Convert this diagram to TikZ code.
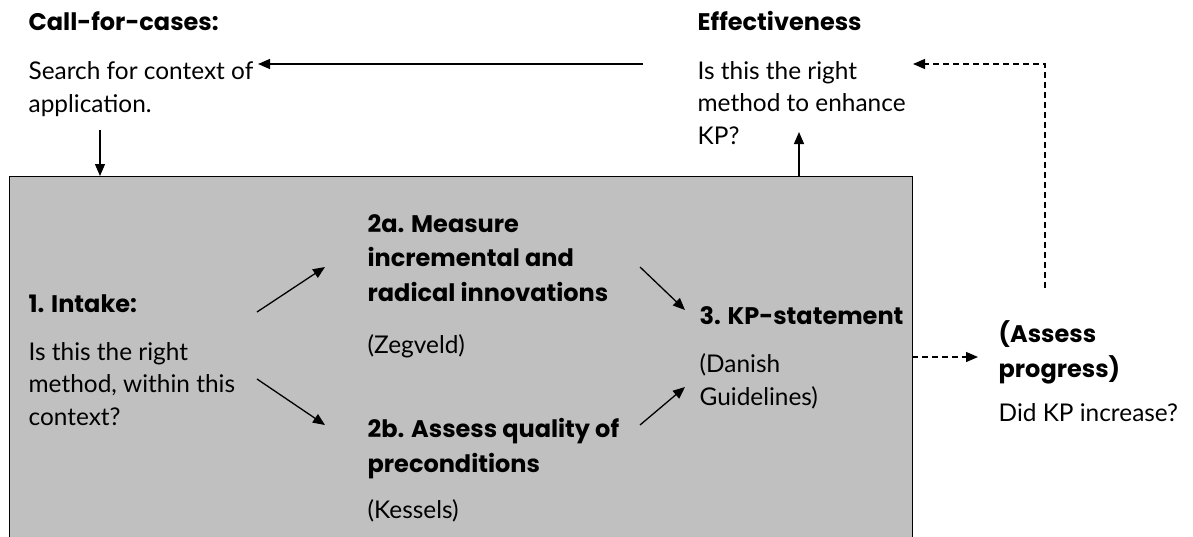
\documentclass[tikz,border=0pt]{standalone}
\usepackage{fontspec}
\setmainfont{Lato}
\newfontfamily\hdfont{Poppins}
\usetikzlibrary{arrows.meta}
\definecolor{boxgray}{HTML}{C0C0C0}
\tikzset{
  txt/.style={anchor=base west,align=left,inner sep=0pt,font=\fontsize{24.4}{32.5}\selectfont},
  hd/.style={txt,font=\hdfont\bfseries\fontsize{24}{34.5}\selectfont},
  dsh/.style={dashed,dash pattern=on 6pt off 4pt}
}
\begin{document}
\begin{tikzpicture}[x=1pt,y=-1pt,>={Triangle[length=12pt,width=10pt]},line width=1.3pt]
\useasboundingbox (0,0) rectangle (1193,536);
% the grey panel
\node (box) [draw,fill=boxgray,anchor=north west,inner sep=0pt,minimum width=903pt,minimum height=380pt] at (9,176) {};

% texts above (nodes sit on the baseline of their last line)
\node (cases) [hd] at (28,30) {Call-for-cases:};
\node (search) [txt] at (28,112) {Search for context of\\application.};
\node (effect) [hd] at (697,30) {Effectiveness};
\node (effq) [txt] at (697,144) {Is this the right\\method to enhance\\KP?};

% texts in the panel
\node (intake) [hd] at (28,312) {1. Intake:};
\node (intq) [txt] at (28,425) {Is this the right\\method, within this\\context?};
\node (meas) [hd] at (367,301) {2a. Measure\\incremental and\\radical innovations};
\node (zeg) [txt] at (367,353) {(Zegveld)};
\node (qual) [hd] at (367,472) {2b. Assess quality of\\preconditions};
\node (kes) [txt] at (367,518) {(Kessels)};
\node (kp) [hd] at (699,324) {3. KP-statement};
\node (dan) [txt] at (699,405) {(Danish\\Guidelines)};

% texts right
\node (assess) [hd] at (998,377) {(Assess\\progress)};
\node (did) [txt] at (998,421) {Did KP increase?};

% arrow ends
\coordinate (a1) at (643,64);
\coordinate (a2) at (258,64);
\coordinate (b1) at (100,130);
\coordinate (c1) at (799,176);
\coordinate (c2) at (799,132);
\coordinate (d1) at (1045,288);
\coordinate (d2) at (913,64);
\coordinate (e1) at (912,357);
\coordinate (e2) at (978,357);
\coordinate (f1) at (257,312);
\coordinate (f2) at (325,267);
\coordinate (g1) at (257,379);
\coordinate (g2) at (325,425);
\coordinate (h1) at (640,267);
\coordinate (h2) at (685,310);
\coordinate (k1) at (640,425);
\coordinate (k2) at (685,387);

\draw[->] (a1) -- (a2);
\draw[->] (b1) -- (b1 |- box.north);
\draw[->] (c1) -- (c2);
\draw[->,dsh] (d1) |- (d2);
\draw[->,dsh] (e1) -- (e2);
\draw[->] (f1) -- (f2);
\draw[->] (g1) -- (g2);
\draw[->] (h1) -- (h2);
\draw[->] (k1) -- (k2);
\end{tikzpicture}
\end{document}
